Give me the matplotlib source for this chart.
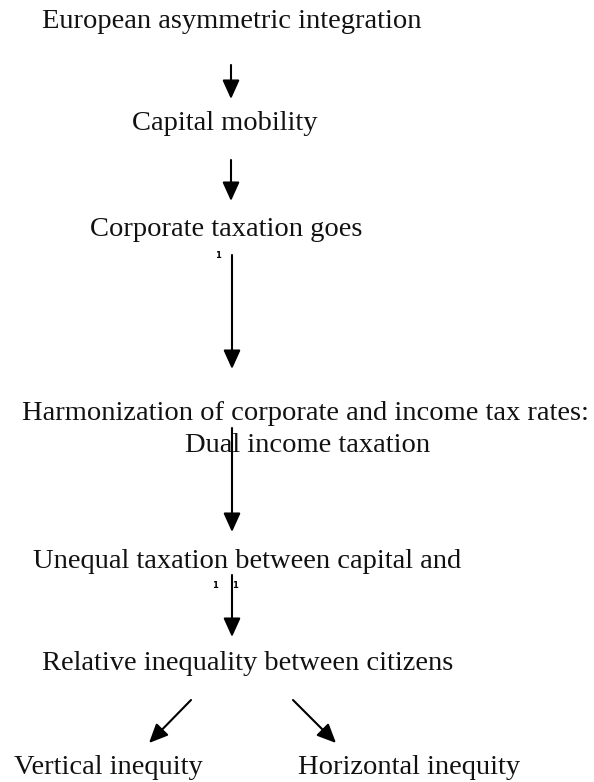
import matplotlib
matplotlib.use('Agg')
import matplotlib.pyplot as plt

# boxes of the flow, top to bottom
labels = [
    'European asymmetric integration',
    'Capital mobility',
    'Corporate taxation goes',
    'Harmonization of corporate and income tax rates:',
    'Dual income taxation',
    'Unequal taxation between capital and',
    'Relative inequality between citizens',
    'Vertical inequity',
    'Horizontal inequity',
]
label_x = [42, 132, 90, 22, 185, 33, 42, 14, 298]
label_y = [21, 124, 229, 413, 446, 561, 664, 768, 768]

# arrows: (x0, y0, x1, y1)
arrows = [
    (231, 65, 231, 99),
    (231, 160, 231, 201),
    (232, 255, 232, 369),
    (232, 428, 232, 532),
    (232, 575, 232, 637),
    (191, 700, 149, 743),
    (293, 700, 336, 743),
]
# stray footnote marks
marks_x = [218, 215, 235]
marks_y = [256, 586, 586]

W, H = 594, 782
fig = plt.figure(figsize=(W / 100, H / 100), dpi=100)
ax = fig.add_axes([0, 0, 1, 1])
ax.set_xlim(0, W)
ax.set_ylim(H, 0)
ax.axis('off')

fs = 20.5
for t, x, y in zip(labels, label_x, label_y):
    ax.text(x, y, t, ha='left', va='center', fontsize=fs,
            family='Liberation Serif', color='#111111')

for x0, y0, x1, y1 in arrows:
    ax.annotate('', xy=(x1, y1), xytext=(x0, y0),
                arrowprops=dict(arrowstyle='-|>,head_length=1.15,head_width=0.52',
                                color='black', lw=1.5, shrinkA=0, shrinkB=0))

for x, y in zip(marks_x, marks_y):
    ax.text(x, y, '1', ha='center', va='center', fontsize=6,
            fontweight='bold', family='DejaVu Sans')

plt.savefig('out.png', dpi=100)
